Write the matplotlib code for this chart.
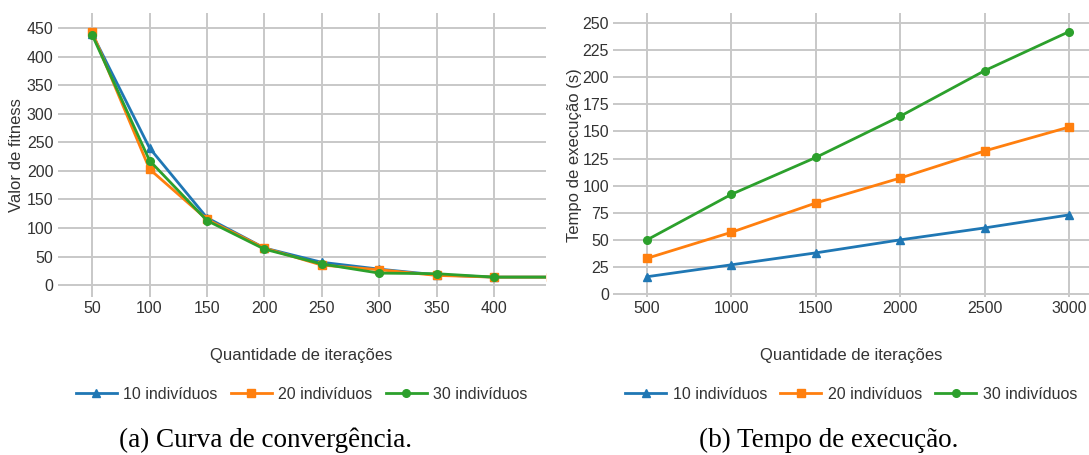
import matplotlib.pyplot as plt
import numpy as np

plt.rcParams['font.family'] = ['Liberation Sans', 'DejaVu Sans']

# curva de convergencia
iter_a = [50, 100, 150, 200, 250, 300, 350, 400, 450]
fit_10 = [440, 240, 118, 65, 40, 28, 18, 14, 14]
fit_20 = [443, 203, 115, 65, 35, 27, 17, 14, 14]
fit_30 = [438, 218, 113, 63, 37, 21, 20, 14, 14]

# tempo de execucao
iter_b = [500, 1000, 1500, 2000, 2500, 3000]
tempo_10 = [16, 27, 38, 50, 61, 73]
tempo_20 = [33, 57, 84, 107, 132, 154]
tempo_30 = [50, 92, 126, 164, 206, 242]

rotulos = ["10 indivíduos", "20 indivíduos", "30 indivíduos"]
cores = ["#1f77b4", "#ff7f0e", "#2ca02c"]
marcadores = ["^", "s", "o"]

fig = plt.figure(figsize=(10.89, 4.55), dpi=100)
ax1 = fig.add_axes([0.053, 0.347, 0.448, 0.624])
ax2 = fig.add_axes([0.563, 0.347, 0.437, 0.624])

def estilo(ax, ylab_x):
    for s in ax.spines.values():
        s.set_visible(False)
    ax.grid(True, color="#c8c8c8", linewidth=1.4)
    ax.set_axisbelow(True)
    ax.tick_params(length=0, labelsize=11.5, colors="#333333", pad=3)
    ax.xaxis.set_label_coords(0.5, -0.18)
    ax.yaxis.set_label_coords(ylab_x, 0.5)
    ax.xaxis.label.set_color("#333333")
    ax.yaxis.label.set_color("#333333")

for ys, lab, c, m in zip([fit_10, fit_20, fit_30], rotulos, cores, marcadores):
    ax1.plot(iter_a, ys, color=c, marker=m, markersize=5.5, linewidth=2, label=lab)
ax1.set_xlim(20, 445)
ax1.set_ylim(-21, 476)
ax1.set_xticks(np.arange(50, 401, 50))
ax1.set_yticks(np.arange(0, 451, 50))
ax1.set_ylabel("Valor de fitness", fontsize=12)
ax1.set_xlabel("Quantidade de iterações", fontsize=12)
estilo(ax1, -0.07)

for ys, lab, c, m in zip([tempo_10, tempo_20, tempo_30], rotulos, cores, marcadores):
    ax2.plot(iter_b, ys, color=c, marker=m, markersize=5.5, linewidth=2, label=lab)
ax2.set_xlim(299, 3118)
ax2.set_ylim(-2.8, 259)
ax2.set_xticks(iter_b)
ax2.set_yticks(np.arange(0, 251, 25))
ax2.set_ylabel("Tempo de execução (s)", fontsize=12)
ax2.set_xlabel("Quantidade de iterações", fontsize=12)
estilo(ax2, -0.066)

for ax in (ax1, ax2):
    leg = ax.legend(loc="center", bbox_to_anchor=(0.5, -0.342), ncol=3, frameon=False,
                    fontsize=11.5, handlelength=2.6, columnspacing=0.8, handletextpad=0.4)
    for t in leg.get_texts():
        t.set_color("#333333")

fig.text(0.244, 0.033, "(a) Curva de convergência.", ha="center", va="center",
         fontsize=19.5, family="Liberation Serif")
fig.text(0.761, 0.033, "(b) Tempo de execução.", ha="center", va="center",
         fontsize=19.5, family="Liberation Serif")

fig.savefig("out.png", dpi=100)
